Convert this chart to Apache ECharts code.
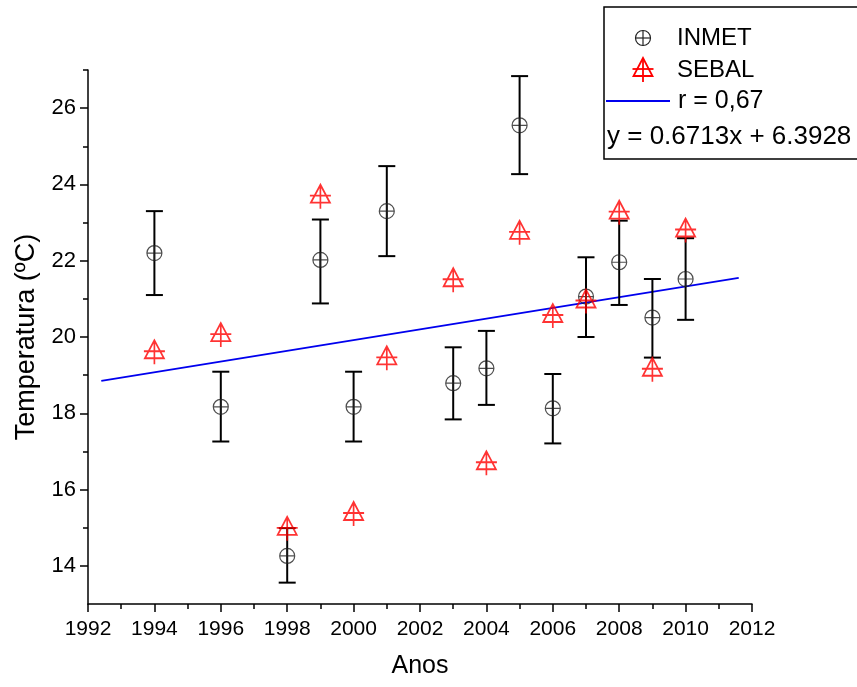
<!DOCTYPE html>
<html>
<head>
<meta charset="utf-8">
<script src="https://cdn.jsdelivr.net/npm/echarts@6/dist/echarts.min.js"></script>
<style>
  html, body { margin: 0; padding: 0; background: #fff; }
  #main { width: 857px; height: 687px; }
</style>
</head>
<body>
<div id="main"></div>
<script>
// dados
var years = [1994, 1996, 1998, 1999, 2000, 2001, 2003, 2004, 2005, 2006, 2007, 2008, 2009, 2010];
var inmetTemp = [22.2, 18.17, 14.26, 22.02, 18.17, 23.3, 18.79, 19.18, 25.55, 18.13, 21.06, 21.96, 20.51, 21.52];
var inmetLow = [21.1, 17.26, 13.56, 20.88, 17.26, 22.12, 17.84, 18.22, 24.27, 17.21, 20.0, 20.84, 19.46, 20.45];
var inmetHigh = [23.3, 19.09, 14.99, 23.08, 19.09, 24.48, 19.73, 20.16, 26.84, 19.03, 22.09, 23.05, 21.52, 22.59];
var sebalTemp = [19.6, 20.05, 14.97, 23.68, 15.36, 19.44, 21.49, 16.69, 22.73, 20.55, 20.93, 23.26, 19.14, 22.79];
var trendYears = [1992.4, 2011.6];
var trendTemp = [18.85, 21.55];

// marcas dos eixos
var xMajorTicks = [1992, 1994, 1996, 1998, 2000, 2002, 2004, 2006, 2008, 2010, 2012];
var xMinorTicks = [1993, 1995, 1997, 1999, 2001, 2003, 2005, 2007, 2009, 2011];
var yMajorTicks = [14, 16, 18, 20, 22, 24, 26];
var yMinorTicks = [15, 17, 19, 21, 23, 25, 27];

// simbolos (circulo com cruz, triangulo com cruz)
var circlePath = 'path://M0,7.5 A7.5,7.5 0 1 1 15,7.5 A7.5,7.5 0 1 1 0,7.5 Z M7.5,0 L7.5,15 M0,7.5 L15,7.5';
var trianglePath = 'path://M10.5,0 L1,18 L20,18 Z M10.5,0 L10.5,24 M0,11 L21,11';

var FONT = 'Liberation Sans, Arial, sans-serif';

var myChart = echarts.init(document.getElementById('main'));

var errData = years.map(function (y, i) { return [y, inmetLow[i], inmetHigh[i]]; });
var inmetData = years.map(function (y, i) { return [y, inmetTemp[i]]; });
var sebalData = years.map(function (y, i) { return [y, sebalTemp[i]]; });
var trendData = trendYears.map(function (y, i) { return [y, trendTemp[i]]; });

function renderErr(params, api) {
    var x = api.value(0);
    var lo = api.coord([x, api.value(1)]);
    var hi = api.coord([x, api.value(2)]);
    var w = 8.5;
    var st = { stroke: '#000', lineWidth: 2 };
    return {
        type: 'group',
        children: [
            { type: 'line', shape: { x1: lo[0], y1: lo[1], x2: hi[0], y2: hi[1] }, style: st },
            { type: 'line', shape: { x1: lo[0] - w, y1: lo[1], x2: lo[0] + w, y2: lo[1] }, style: st },
            { type: 'line', shape: { x1: hi[0] - w, y1: hi[1], x2: hi[0] + w, y2: hi[1] }, style: st }
        ]
    };
}

var axisLineStyle = { color: '#000', width: 1.5 };
var plainLabel = function (v) { return String(v); };

// legenda desenhada a mao
var circStyle = { fill: 'none', stroke: '#222', lineWidth: 1.2 };
var triStyle = { fill: 'none', stroke: '#ff0000', lineWidth: 1.8 };
var legendItems = [
    { type: 'rect', shape: { x: 604, y: 7, width: 270, height: 152 },
      style: { fill: '#fff', stroke: '#000', lineWidth: 1.5 } },
    { type: 'circle', shape: { cx: 643, cy: 38, r: 7.5 }, style: circStyle },
    { type: 'line', shape: { x1: 643, y1: 30.5, x2: 643, y2: 45.5 }, style: circStyle },
    { type: 'line', shape: { x1: 635.5, y1: 38, x2: 650.5, y2: 38 }, style: circStyle },
    { type: 'text', x: 677, y: 38, style: { text: 'INMET', font: '24px ' + FONT, fill: '#000', verticalAlign: 'middle' } },
    { type: 'polygon', shape: { points: [[643, 58], [633.5, 76], [652.5, 76]] }, style: triStyle },
    { type: 'line', shape: { x1: 643, y1: 58, x2: 643, y2: 82 }, style: triStyle },
    { type: 'line', shape: { x1: 632.5, y1: 69, x2: 653.5, y2: 69 }, style: triStyle },
    { type: 'text', x: 677, y: 70, style: { text: 'SEBAL', font: '24px ' + FONT, fill: '#000', verticalAlign: 'middle' } },
    { type: 'line', shape: { x1: 606, y1: 101, x2: 670, y2: 101 }, style: { stroke: '#0000ee', lineWidth: 2 } },
    { type: 'text', x: 678, y: 101, style: { text: 'r = 0,67', font: '25px ' + FONT, fill: '#000', verticalAlign: 'middle' } },
    { type: 'text', x: 607, y: 137, style: { text: 'y = 0.6713x + 6.3928', font: '26px ' + FONT, fill: '#000', verticalAlign: 'middle' } }
];

var option = {
    backgroundColor: '#fff',
    animation: false,
    grid: { left: 88, right: 105, top: 70, bottom: 83 },
    xAxis: [
        {
            type: 'value', min: 1992, max: 2012, interval: 1, position: 'bottom',
            name: 'Anos', nameLocation: 'middle', nameGap: 50,
            nameTextStyle: { fontFamily: FONT, fontSize: 25, color: '#000' },
            axisLine: { onZero: false, lineStyle: axisLineStyle },
            axisTick: { customValues: xMajorTicks, length: 8, lineStyle: axisLineStyle },
            axisLabel: { customValues: xMajorTicks, formatter: plainLabel, fontFamily: FONT, fontSize: 21, color: '#000', margin: 15 },
            splitLine: { show: false }
        },
        {
            type: 'value', min: 1992, max: 2012, interval: 1, position: 'bottom',
            axisLine: { show: false, onZero: false },
            axisTick: { customValues: xMinorTicks, length: 5, lineStyle: axisLineStyle },
            axisLabel: { show: false },
            splitLine: { show: false }
        }
    ],
    yAxis: [
        {
            type: 'value', min: 13, max: 27, interval: 1, position: 'left',
            name: 'Temperatura (ºC)', nameLocation: 'middle', nameGap: 48,
            nameTextStyle: { fontFamily: FONT, fontSize: 27, color: '#000' },
            axisLine: { show: true, onZero: false, lineStyle: axisLineStyle },
            axisTick: { show: true, customValues: yMajorTicks, length: 8, lineStyle: axisLineStyle },
            axisLabel: { customValues: yMajorTicks, formatter: plainLabel, fontFamily: FONT, fontSize: 22, color: '#000', margin: 12 },
            splitLine: { show: false }
        },
        {
            type: 'value', min: 13, max: 27, interval: 1, position: 'left',
            axisLine: { show: false, onZero: false },
            axisTick: { show: true, customValues: yMinorTicks, length: 5, lineStyle: axisLineStyle },
            axisLabel: { show: false },
            splitLine: { show: false }
        }
    ],
    series: [
        {
            name: 'trend', type: 'line', data: trendData, symbol: 'none', z: 1,
            lineStyle: { color: '#0000ee', width: 2 }
        },
        {
            name: 'erro', type: 'custom', renderItem: renderErr, data: errData,
            encode: { x: 0, y: [1, 2] }, z: 2
        },
        {
            name: 'INMET', type: 'scatter', data: inmetData, z: 3,
            symbol: circlePath, symbolSize: [15, 15],
            itemStyle: { color: 'rgba(0,0,0,0)', borderColor: '#222', borderWidth: 1.2 }
        },
        {
            name: 'SEBAL', type: 'scatter', data: sebalData, z: 4,
            symbol: trianglePath, symbolSize: [21, 24],
            itemStyle: { color: 'rgba(0,0,0,0)', borderColor: '#ff0000', borderWidth: 1.8 }
        }
    ],
    graphic: [
        { type: 'group', z: 100, children: legendItems }
    ]
};

myChart.setOption(option);
</script>
</body>
</html>
